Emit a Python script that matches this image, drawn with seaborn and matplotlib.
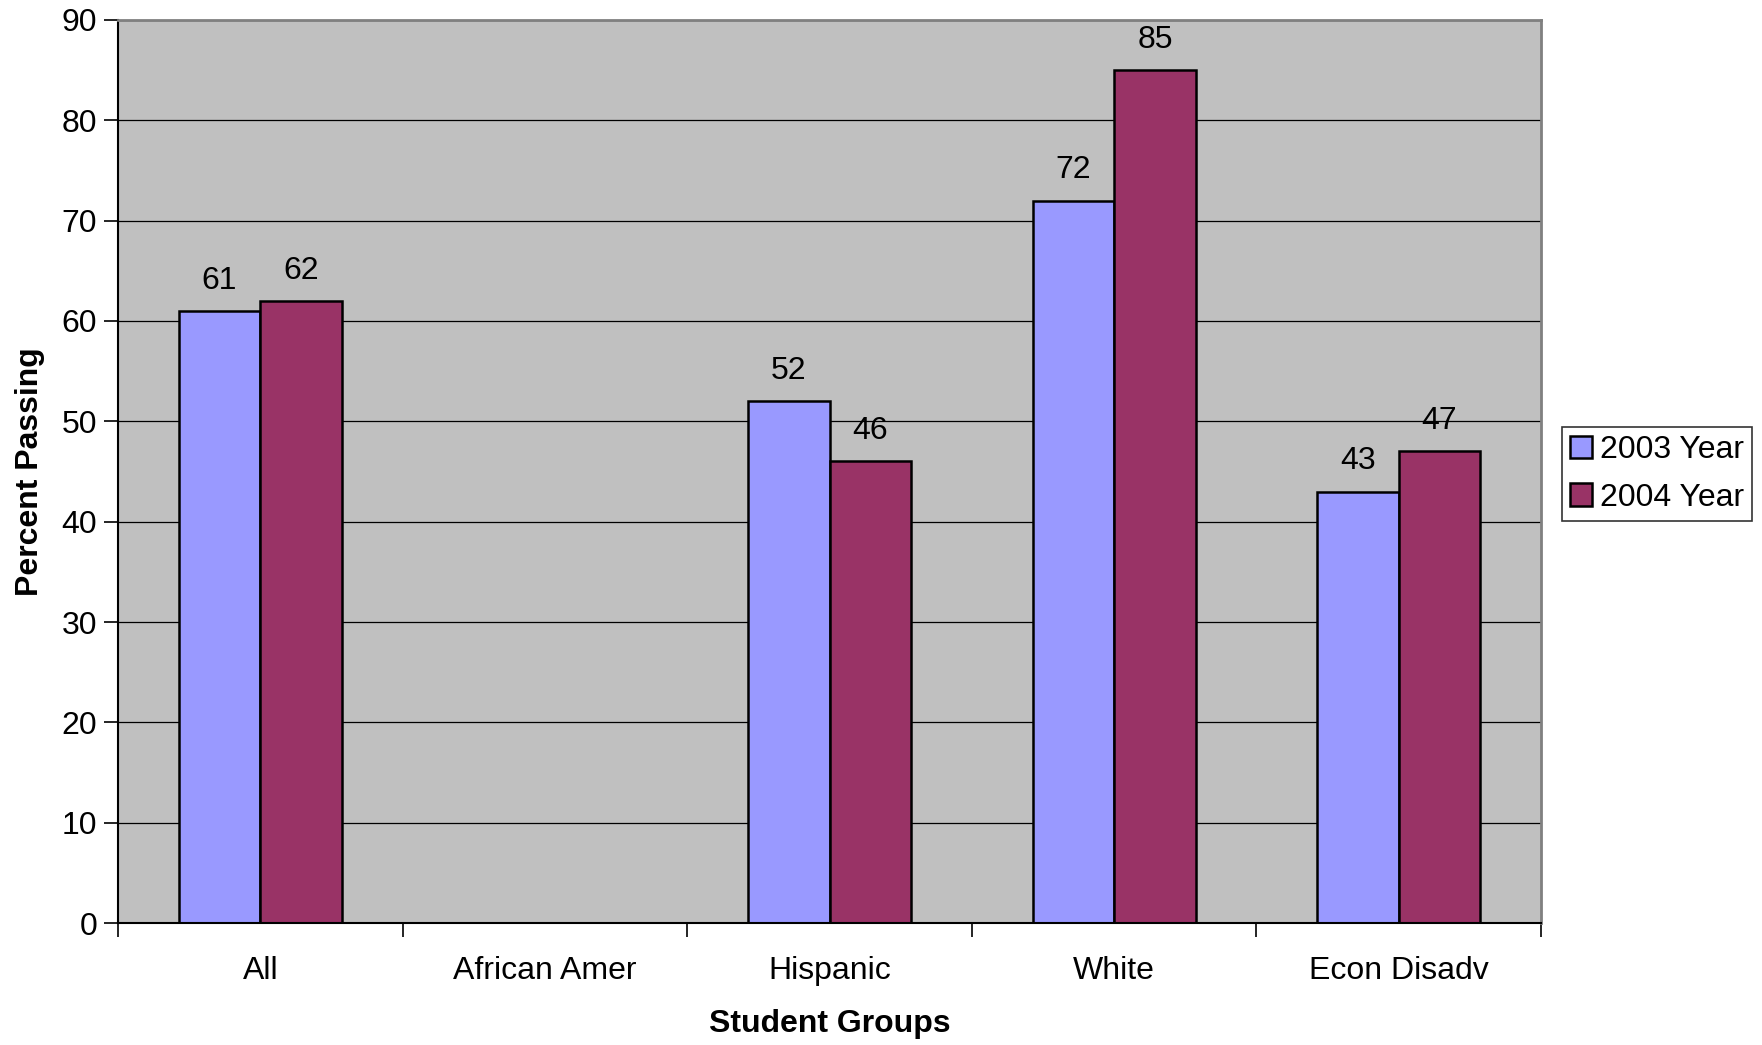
"""Grouped bar chart: percent passing by student group, 2003 vs 2004."""

import matplotlib

matplotlib.use("Agg")
import matplotlib.pyplot as plt
import numpy as np
import pandas as pd
import seaborn as sns

groups = ["All", "African Amer", "Hispanic", "White", "Econ Disadv"]
years = ["2003 Year", "2004 Year"]
pass_2003 = [61, np.nan, 52, 72, 43]
pass_2004 = [62, np.nan, 46, 85, 47]
y_ticks = list(range(0, 100, 10))

colors = {"2003 Year": "#9999FF", "2004 Year": "#993366"}

df = pd.DataFrame(
    {
        "group": groups * 2,
        "year": [years[0]] * len(groups) + [years[1]] * len(groups),
        "value": pass_2003 + pass_2004,
    }
)

sns.set_style("white")
plt.rcParams["font.family"] = ["Liberation Sans", "DejaVu Sans"]
plt.rcParams["text.color"] = "black"
plt.rcParams["axes.labelcolor"] = "black"
plt.rcParams["xtick.color"] = "black"
plt.rcParams["ytick.color"] = "black"

fig = plt.figure(figsize=(17.62, 10.45), dpi=100)
ax = fig.add_axes([0.067, 0.1167, 0.8076, 0.8642])

sns.barplot(
    data=df,
    x="group",
    y="value",
    hue="year",
    order=groups,
    hue_order=years,
    palette=colors,
    width=0.573,
    edgecolor="black",
    linewidth=1.8,
    saturation=1,
    errorbar=None,
    legend=True,
    ax=ax,
)

ax.set_facecolor("#C0C0C0")
ax.set_ylim(0, 90)
ax.set_xlim(-0.5, len(groups) - 0.5)
ax.set_yticks(y_ticks)
ax.yaxis.grid(True, color="black", linewidth=0.9)
ax.set_axisbelow(True)

# category boundaries get the tick marks, centres get the labels
ax.set_xticks(np.arange(-0.5, len(groups), 1.0))
ax.set_xticklabels([])
ax.set_xticks(np.arange(len(groups)), minor=True)
ax.set_xticklabels(groups, minor=True)
ax.tick_params(axis="x", which="major", direction="out", length=10, width=1.2, color="black", bottom=True)
ax.tick_params(axis="x", which="minor", length=0, pad=24, labelsize=23)
ax.tick_params(axis="y", direction="out", length=10, width=1.2, color="black", left=True, labelsize=23, pad=5)

for side in ["left", "bottom"]:
    ax.spines[side].set_color("black")
    ax.spines[side].set_linewidth(1.5)
for side in ["top", "right"]:
    ax.spines[side].set_color("#808080")
    ax.spines[side].set_linewidth(2)

for cont in ax.containers:
    labels = ["" if np.isnan(v) else f"{v:.0f}" for v in cont.datavalues]
    ax.bar_label(cont, labels=labels, padding=11, fontsize=23)

ax.set_xlabel("Student Groups", fontsize=23, fontweight="bold", labelpad=16)
ax.set_ylabel("Percent Passing", fontsize=23, fontweight="bold", labelpad=12)

leg = ax.legend(
    loc="center left",
    bbox_to_anchor=(0.8865, 0.5465),
    bbox_transform=fig.transFigure,
    fontsize=23,
    frameon=True,
    fancybox=False,
    edgecolor="black",
    handlelength=0.7,
    handleheight=0.7,
    handletextpad=0.25,
    borderpad=0.25,
    labelspacing=0.55,
    borderaxespad=0,
)
leg.get_frame().set_linewidth(1.2)

fig.savefig("out.png", dpi=100)
plt.close(fig)
